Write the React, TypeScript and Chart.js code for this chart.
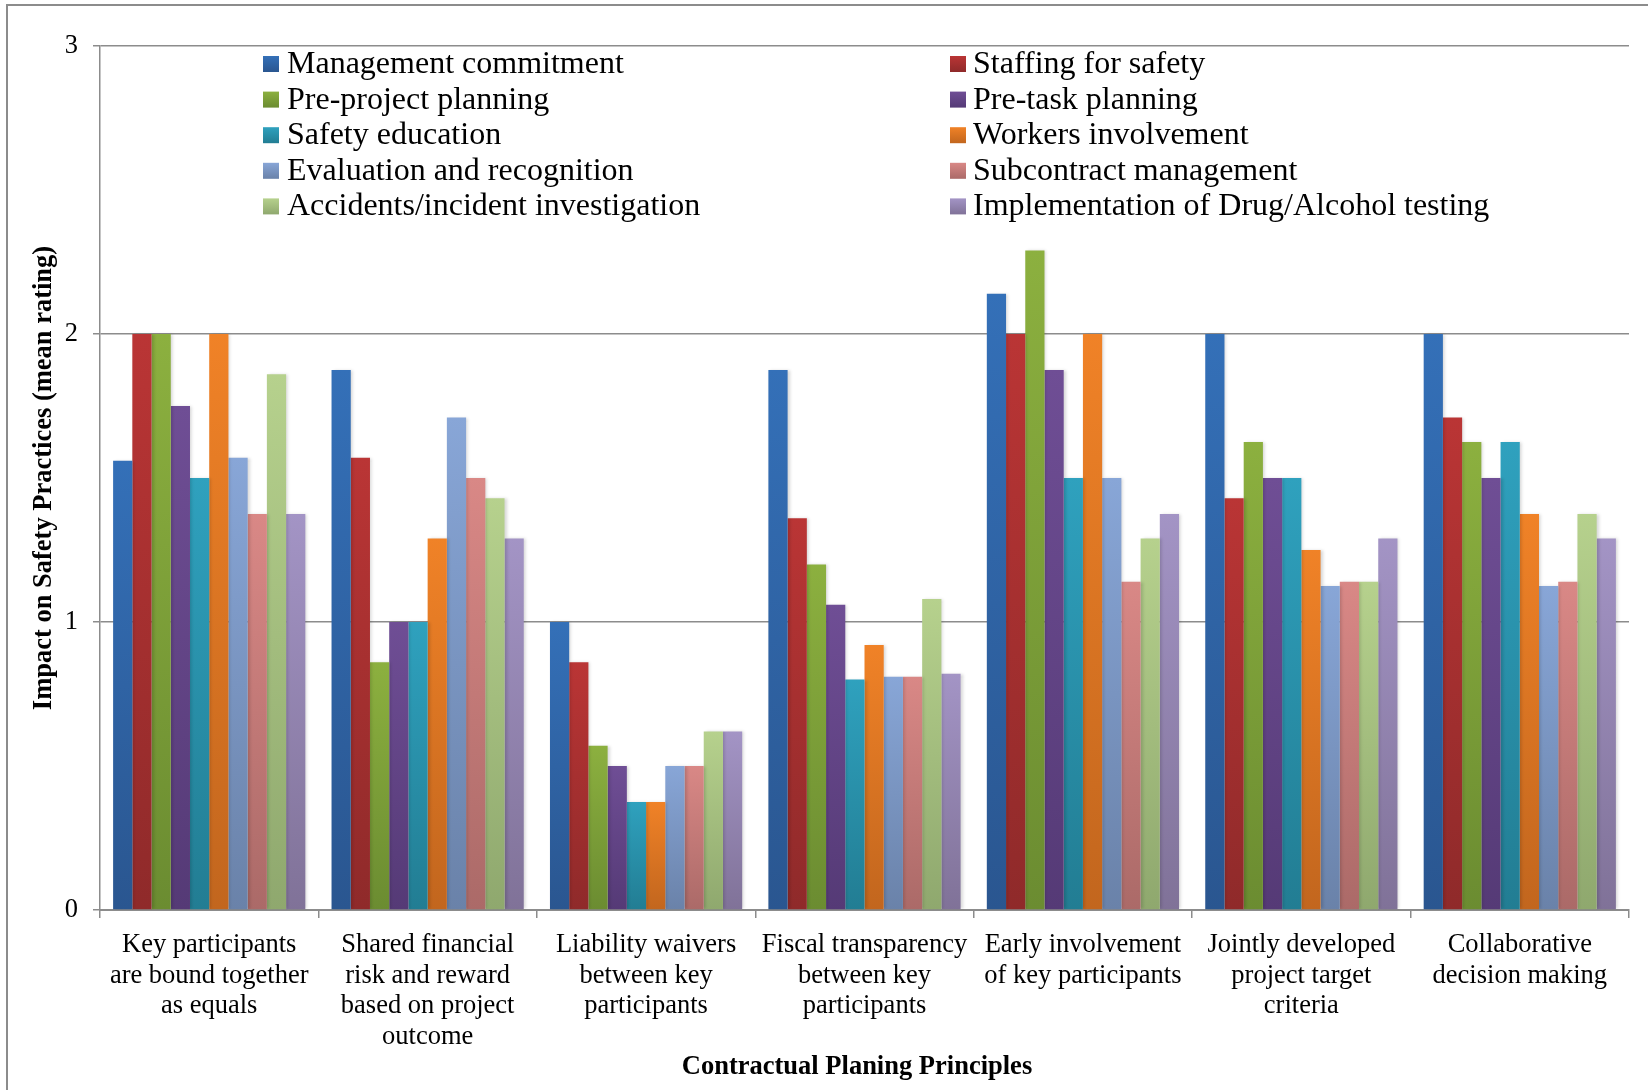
import React, { useEffect, useRef } from "react";
import { Chart, registerables } from "chart.js";

Chart.register(...registerables);

const FONT = '"Liberation Serif", "Times New Roman", Times, serif';

// ---- Data ----
const categories: string[][] = [
  ["Key participants", "are bound together", "as equals"],
  ["Shared financial", "risk and reward", "based on project", "outcome"],
  ["Liability waivers", "between key", "participants"],
  ["Fiscal transparency", "between key", "participants"],
  ["Early involvement", "of key participants"],
  ["Jointly developed", "project target", "criteria"],
  ["Collaborative", "decision making"],
];

const seriesNames = [
  "Management commitment",
  "Staffing for safety",
  "Pre-project planning",
  "Pre-task planning",
  "Safety education",
  "Workers involvement",
  "Evaluation and recognition",
  "Subcontract management",
  "Accidents/incident investigation",
  "Implementation of Drug/Alcohol testing",
];

const managementCommitment = [1.56, 1.875, 1.0, 1.875, 2.14, 2.0, 2.0];
const staffingForSafety = [2.0, 1.57, 0.86, 1.36, 2.0, 1.43, 1.71];
const preProjectPlanning = [2.0, 0.86, 0.57, 1.2, 2.29, 1.625, 1.625];
const preTaskPlanning = [1.75, 1.0, 0.5, 1.06, 1.875, 1.5, 1.5];
const safetyEducation = [1.5, 1.0, 0.375, 0.8, 1.5, 1.5, 1.625];
const workersInvolvement = [2.0, 1.29, 0.375, 0.92, 2.0, 1.25, 1.375];
const evaluationRecognition = [1.57, 1.71, 0.5, 0.81, 1.5, 1.125, 1.125];
const subcontractManagement = [1.375, 1.5, 0.5, 0.81, 1.14, 1.14, 1.14];
const accidentInvestigation = [1.86, 1.43, 0.62, 1.08, 1.29, 1.14, 1.375];
const drugAlcoholTesting = [1.375, 1.29, 0.62, 0.82, 1.375, 1.29, 1.29];

const seriesValues = [
  managementCommitment,
  staffingForSafety,
  preProjectPlanning,
  preTaskPlanning,
  safetyEducation,
  workersInvolvement,
  evaluationRecognition,
  subcontractManagement,
  accidentInvestigation,
  drugAlcoholTesting,
];

const yTicks = [0, 1, 2, 3];

const xTitle = "Contractual Planing Principles";
const yTitle = "Impact on Safety Practices (mean rating)";

// gradient colours: [top, bottom]
const seriesColors: [string, string][] = [
  ["#3470b8", "#2a5690"],
  ["#ba3535", "#8f2a2a"],
  ["#8cb03f", "#6b8c31"],
  ["#6f4e95", "#553a76"],
  ["#2fa1be", "#227d93"],
  ["#f08227", "#c2661e"],
  ["#88a6d7", "#6a82a9"],
  ["#d98886", "#ab6a68"],
  ["#b6d18d", "#8fa86e"],
  ["#a394c5", "#807298"],
];

const GRID = "#8c8c8c";

const decorPlugin = {
  id: "decor",
  beforeDraw(chart: any) {
    const ctx = chart.ctx as CanvasRenderingContext2D;
    ctx.save();
    ctx.fillStyle = "#ffffff";
    ctx.fillRect(0, 0, chart.width, chart.height);
    ctx.strokeStyle = GRID;
    ctx.lineWidth = 2;
    ctx.beginPath();
    ctx.moveTo(7, chart.height);
    ctx.lineTo(7, 5);
    ctx.lineTo(chart.width, 5);
    ctx.stroke();
    ctx.restore();
  },
  beforeDatasetsDraw(chart: any) {
    const ctx = chart.ctx as CanvasRenderingContext2D;
    ctx.save();
    ctx.shadowColor = "rgba(0,0,0,0.16)";
    ctx.shadowBlur = 3;
    ctx.shadowOffsetX = 2;
    ctx.shadowOffsetY = 0;
  },
  afterDatasetsDraw(chart: any) {
    chart.ctx.restore();
  },
  afterDraw(chart: any) {
    const ctx = chart.ctx as CanvasRenderingContext2D;
    const cols = [
      { box: 263, text: 287 },
      { box: 950, text: 973 },
    ];
    ctx.save();
    ctx.font = `32px ${FONT}`;
    ctx.textBaseline = "alphabetic";
    ctx.textAlign = "left";
    chart.data.datasets.forEach((ds: any, i: number) => {
      const col = cols[i % 2];
      const row = Math.floor(i / 2);
      const cy = 64 + row * 35.6;
      const [top, bot] = seriesColors[i];
      const g = ctx.createLinearGradient(0, cy - 8, 0, cy + 8);
      g.addColorStop(0, top);
      g.addColorStop(1, bot);
      ctx.fillStyle = g;
      ctx.fillRect(col.box, cy - 8, 16, 16);
      ctx.fillStyle = "#000";
      ctx.fillText(ds.label, col.text, cy + 9);
    });
    // x-axis title
    ctx.font = `bold 26.5px ${FONT}`;
    ctx.textAlign = "center";
    ctx.textBaseline = "middle";
    ctx.fillText(xTitle, 857, 1067);
    ctx.restore();
  },
};

export default function App() {
  const ref = useRef<HTMLCanvasElement | null>(null);

  useEffect(() => {
    if (!ref.current) return;
    const datasets = seriesNames.map((name, i) => ({
      label: name,
      data: seriesValues[i],
      borderWidth: 0,
      backgroundColor: (c: any) => {
        const [top, bot] = seriesColors[i];
        const chart = c.chart;
        if (!chart.chartArea || c.type !== "data") return top;
        const y = chart.scales.y;
        const v = c.raw as number;
        const yTop = y.getPixelForValue(v);
        const yBot = y.getPixelForValue(0);
        if (!isFinite(yTop) || !isFinite(yBot) || yTop === yBot) return top;
        const g = chart.ctx.createLinearGradient(0, yTop, 0, yBot);
        g.addColorStop(0, top);
        g.addColorStop(1, bot);
        return g;
      },
      categoryPercentage: 0.88,
      barPercentage: 1.0,
    }));

    const chart = new Chart(ref.current, {
      type: "bar",
      data: { labels: categories as any, datasets },
      plugins: [decorPlugin],
      options: {
        responsive: false,
        animation: false,
        layout: { padding: { left: 0, top: 46, right: 19, bottom: 0 } },
        plugins: {
          legend: { display: false },
          tooltip: { enabled: false },
        },
        scales: {
          x: {
            afterFit: (s: any) => {
              s.height = 180;
            },
            grid: {
              display: true,
              drawOnChartArea: false,
              drawTicks: true,
              tickLength: 8,
              offset: true,
              color: GRID,
              lineWidth: 1.5,
            },
            border: { display: true, color: GRID, width: 2 },
            ticks: {
              autoSkip: false,
              maxRotation: 0,
              minRotation: 0,
              padding: 12,
              color: "#000",
              font: { family: FONT, size: 26.5, lineHeight: 1.15 },
            },
            title: { display: false },
          },
          y: {
            min: 0,
            max: 3,
            afterFit: (s: any) => {
              s.width = 100;
            },
            afterBuildTicks: (s: any) => {
              s.ticks = yTicks.map((v) => ({ value: v }));
            },
            grid: {
              display: true,
              drawOnChartArea: true,
              drawTicks: true,
              tickLength: 7,
              color: GRID,
              lineWidth: 1.5,
            },
            border: { display: true, color: GRID, width: 1.5 },
            ticks: {
              padding: 15,
              color: "#000",
              font: { family: FONT, size: 26.5 },
            },
            title: {
              display: true,
              text: yTitle,
              color: "#000",
              font: { family: FONT, size: 26.5, weight: "bold", lineHeight: 1.2 },
              padding: { top: 28, bottom: 0 },
            },
          },
        },
      } as any,
    });
    return () => chart.destroy();
  }, []);

  return (
    <div style={{ position: "fixed", left: 0, top: 0, width: 1648, height: 1090, background: "#fff" }}>
      <canvas ref={ref} width={1648} height={1090} style={{ display: "block", width: 1648, height: 1090 }} />
    </div>
  );
}
